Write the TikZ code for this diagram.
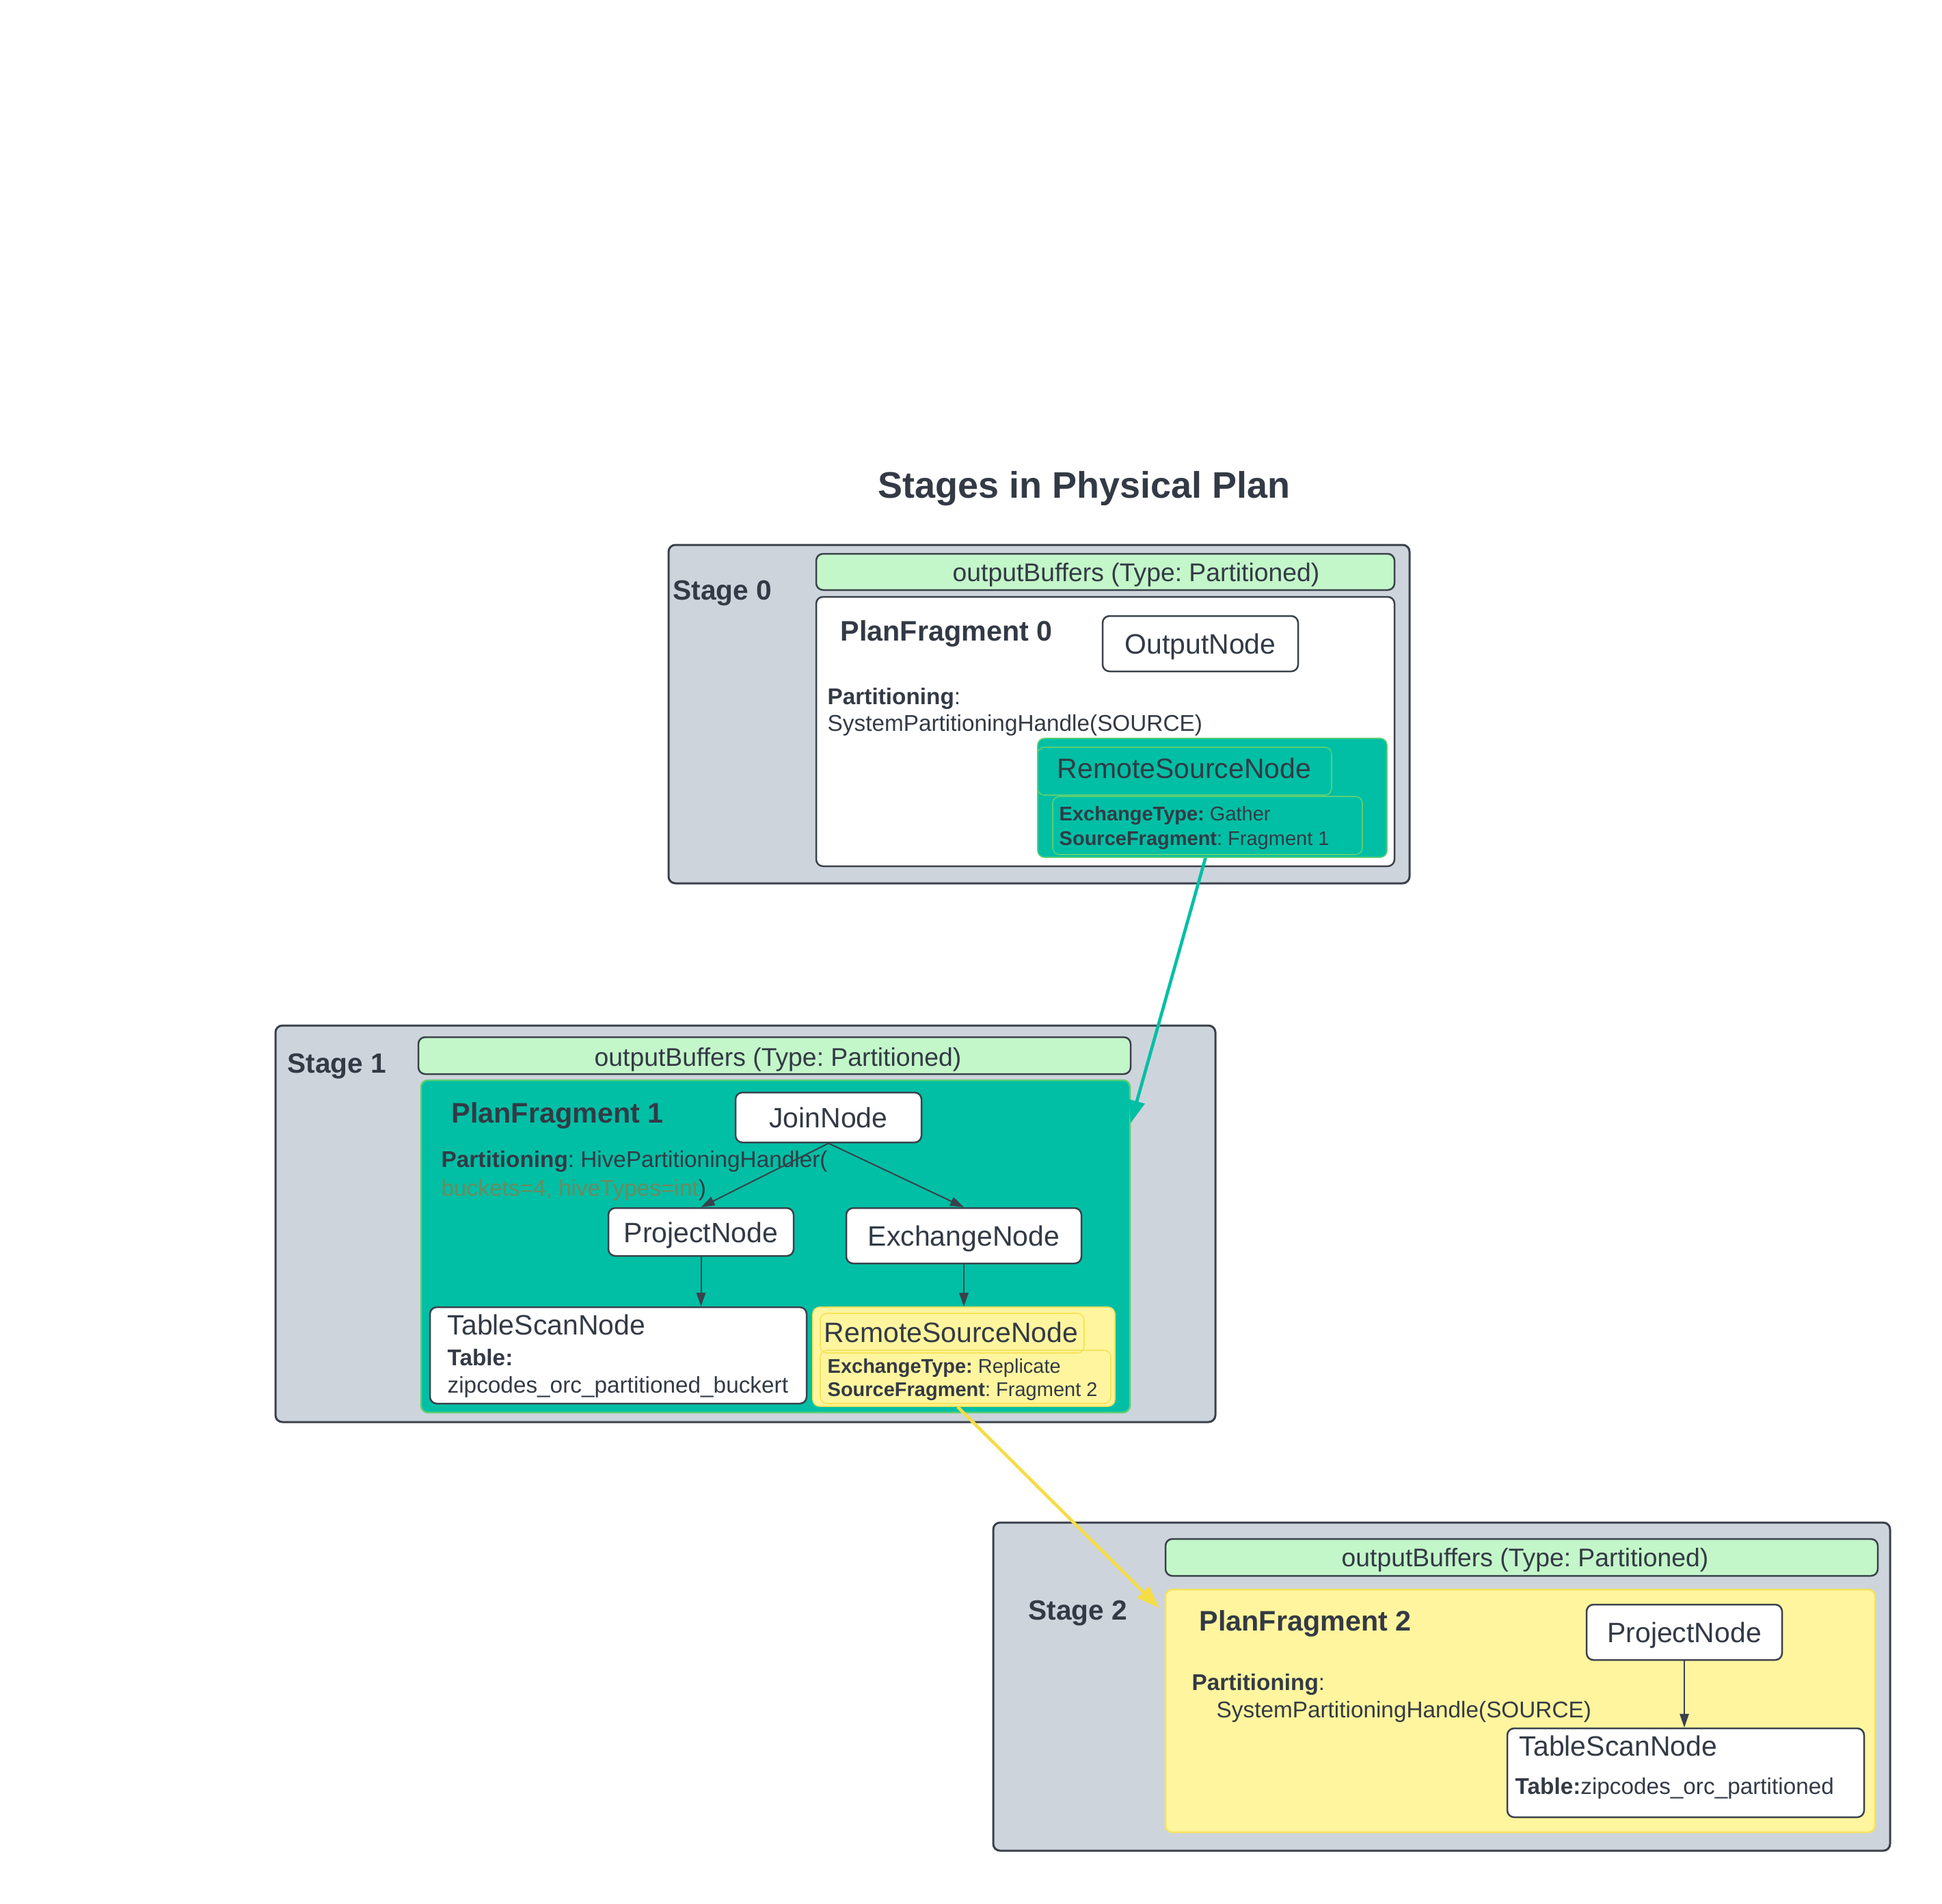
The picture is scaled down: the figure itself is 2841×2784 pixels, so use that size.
\documentclass[tikz,border=0pt]{standalone}
\usepackage{fontspec}
\setmainfont{Liberation Sans}
\usetikzlibrary{positioning,fit,arrows.meta}

\definecolor{stagebg}{HTML}{CED4DC}
\definecolor{edgec}{HTML}{3A414B}
\definecolor{bufc}{HTML}{C3F6C9}
\definecolor{tealc}{HTML}{00BFA5}
\definecolor{tealedge}{HTML}{5CCF74}
\definecolor{yelc}{HTML}{FFF59E}
\definecolor{yeledge}{HTML}{F7E35A}
\definecolor{yarrow}{HTML}{F4DD45}
\definecolor{txtc}{HTML}{333A45}
\definecolor{bucketc}{HTML}{6D8A5E}

\newcommand\ttlfont{\fontsize{16.2}{19}\selectfont\bfseries}
\newcommand\stagefont{\fontsize{12.2}{14}\selectfont\bfseries}
\newcommand\fragfont{\fontsize{12.4}{14}\selectfont\bfseries}
\newcommand\namefont{\fontsize{12.3}{14}\selectfont}
\newcommand\bufont{\fontsize{11.2}{13}\selectfont}
\newcommand\partfont{\fontsize{10}{12}\selectfont}
\newcommand\detfont{\fontsize{8.7}{10}\selectfont}

\begin{document}
\frenchspacing
\begin{tikzpicture}[x=0.3pt, y=-0.3pt, every node/.append style={text=txtc}]
        \tikzstyle{stagebox}=[draw=edgec, fill=stagebg, line width=0.9pt, rounded corners=3pt, inner sep=0pt]
        \tikzstyle{bufbox}=[draw=edgec, fill=bufc, line width=0.75pt, rounded corners=3pt, inner sep=0pt]
        \tikzstyle{buftxt}=[font=\bufont, inner sep=0pt, yshift=-1.5pt]
        \tikzstyle{fragbox}=[draw=edgec, fill=white, line width=0.75pt, rounded corners=3pt, inner sep=0pt]
        \tikzstyle{remotebox}=[line width=0.5pt, rounded corners=3pt, inner sep=0pt]
        \tikzstyle{opnode}=[draw=edgec, fill=white, line width=0.75pt, rounded corners=3pt, font=\namefont, text height=0.9em, text depth=0pt]
        \tikzstyle{lbl}=[anchor=mid west, inner sep=0pt, yshift=-1.5pt]
        \tikzstyle{flow}=[draw=edgec, line width=0.6pt, -{Triangle[length=6pt,width=4pt]}]
        \tikzstyle{link}=[line width=1.4pt, -{Triangle[length=10pt,width=7pt]}]

        \useasboundingbox (0,0) rectangle (2841,2784);
        \node (title) [font=\ttlfont, yshift=-1.5pt] at (1586,710) {Stages in Physical Plan};

        % stage 0
        \node (stage0) [stagebox, fit={(978,797) (2062,1292)}] {};
        \node (stage0lbl) [lbl, font=\stagefont] at (984,864) {Stage 0};
        \node (ob0) [bufbox, fit={(1194,810) (2040,863)}] {};
        \node (ob0txt) [buftxt] at (1662,836) {outputBuffers (Type: Partitioned)};
        \node (pf0) [fragbox, fit={(1194,873) (2040,1267)}] {};
        \node (pf0lbl) [lbl, font=\fragfont] at (1229,924) {PlanFragment 0};
        \node (out0) [opnode, minimum width=85.8pt, minimum height=24.3pt] at (1756,941.5) {OutputNode};
        \node (part0a) [lbl, font=\partfont] at (1210,1017) {\textbf{Partitioning}:};
        \node (part0b) [lbl, font=\partfont] at (1210,1056) {SystemPartitioningHandle(SOURCE)};
        \node (rs0) [remotebox, fill=tealc, draw=tealedge, fit={(1518,1080) (2029,1254)}] {};
        \node (rs0t) [remotebox, draw=tealedge, fit={(1518,1093) (1948,1163)}] {};
        \node (rs0d) [remotebox, draw=tealedge, fit={(1540,1165) (1993,1250)}] {};
        \node (rs0lbl) [lbl, font=\namefont] at (1546,1125) {RemoteSourceNode};
        \node (rs0a) [lbl, font=\detfont] at (1549,1187) {\textbf{ExchangeType:} Gather};
        \node (rs0b) [lbl, font=\detfont] at (1549,1223) {\textbf{SourceFragment}: Fragment 1};

        % stage 1
        \node (stage1) [stagebox, fit={(403,1500) (1778,2080)}] {};
        \node (stage1lbl) [lbl, font=\stagefont] at (420,1556) {Stage 1};
        \node (ob1) [bufbox, fit={(612,1517) (1654,1571)}] {};
        \node (ob1txt) [buftxt] at (1138,1545) {outputBuffers (Type: Partitioned)};
        \node (pf1) [fragbox, fill=tealc, draw=tealedge, fit={(616,1580) (1653,2066)}] {};
        \node (pf1lbl) [lbl, font=\fragfont] at (660,1629) {PlanFragment 1};
        \node (part1a) [lbl, font=\partfont] at (645,1694) {\textbf{Partitioning}: HivePartitioningHandler(};
        \node (part1b) [lbl, font=\partfont] at (645,1736) {\textcolor{bucketc}{buckets=4, hiveTypes=int})};
        \node (join1) [opnode, minimum width=81.6pt, minimum height=21.9pt] at (1212,1634.5) {JoinNode};
        \node (proj1) [opnode, minimum width=81.3pt, minimum height=21pt] at (1025.5,1802) {ProjectNode};
        \node (exch1) [opnode, minimum width=103.2pt, minimum height=24.3pt] at (1410,1807.5) {ExchangeNode};
        \node (scan1) [fragbox, fit={(629,1912) (1180,2053)}] {};
        \node (scan1lbl) [lbl, font=\namefont] at (654,1939) {TableScanNode};
        \node (scan1a) [lbl, font=\partfont] at (654,1984) {\textbf{Table:}};
        \node (scan1b) [lbl, font=\partfont] at (654,2024) {zipcodes\_orc\_partitioned\_buckert};
        \node (rs1) [remotebox, fill=yelc, draw=yeledge, fit={(1189,1912) (1631,2057)}] {};
        \node (rs1t) [remotebox, draw=yeledge, fit={(1200,1921) (1586,1979)}] {};
        \node (rs1d) [remotebox, draw=yeledge, fit={(1200,1975) (1625,2053)}] {};
        \node (rs1lbl) [lbl, font=\namefont] at (1205,1950) {RemoteSourceNode};
        \node (rs1a) [lbl, font=\detfont] at (1210,1995) {\textbf{ExchangeType:} Replicate};
        \node (rs1b) [lbl, font=\detfont] at (1210,2029) {\textbf{SourceFragment}: Fragment 2};

        % stage 2
        \node (stage2) [stagebox, fit={(1453,2227) (2765,2707)}] {};
        \node (stage2lbl) [lbl, font=\stagefont] at (1504,2356) {Stage 2};
        \node (ob2) [bufbox, fit={(1705,2251) (2747,2305)}] {};
        \node (ob2txt) [buftxt] at (2231,2277) {outputBuffers (Type: Partitioned)};
        \node (pf2) [fragbox, fill=yelc, draw=yeledge, fit={(1705,2325) (2743,2680)}] {};
        \node (pf2lbl) [lbl, font=\fragfont] at (1754,2372) {PlanFragment 2};
        \node (proj2) [opnode, minimum width=85.8pt, minimum height=24.3pt] at (2464,2387.5) {ProjectNode};
        \node (part2a) [lbl, font=\partfont] at (1743,2459) {\textbf{Partitioning}:};
        \node (part2b) [lbl, font=\partfont] at (1779,2499) {SystemPartitioningHandle(SOURCE)};
        \node (scan2) [fragbox, fit={(2205,2528) (2727,2658)}] {};
        \node (scan2lbl) [lbl, font=\namefont] at (2222,2555) {TableScanNode};
        \node (scan2a) [lbl, font=\partfont] at (2216,2611) {\textbf{Table:}zipcodes\_orc\_partitioned};

        % edges
        \draw[flow] (join1.south) -- (proj1.north);
        \draw[flow] (join1.south) -- (exch1.north);
        \draw[flow] (proj1.south) -- (proj1.south |- scan1.north);
        \draw[flow] (exch1.south) -- (rs1.north);
        \draw[flow] (proj2.south) -- (proj2.south |- scan2.north);

        \coordinate (pf1in) at (1654,1643);
        \coordinate (pf2in) at (1696,2352);
        \draw[link, tealc] ([xshift=-3pt]rs0.south) -- (pf1in);
        \draw[link, yarrow] ([xshift=-2.7pt]rs1.south) -- (pf2in);
\end{tikzpicture}
\end{document}
